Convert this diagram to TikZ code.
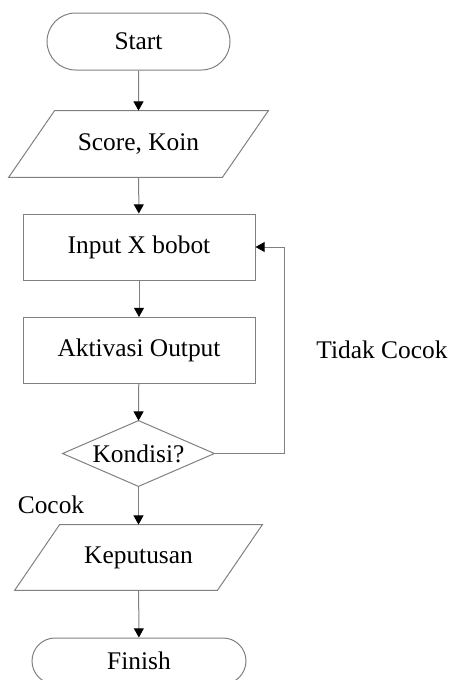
\documentclass[tikz,border=0pt]{standalone}
\usepackage{fontspec}
\setmainfont{Liberation Serif}
\usetikzlibrary{arrows.meta,shapes.misc,calc}
\begin{document}
\begin{tikzpicture}[x=0.5pt,y=-0.5pt,
  font=\fontsize{12.7pt}{15pt}\selectfont,
  line/.style={draw=black!50, line width=0.5pt},
  arr/.style={line, -{Triangle[width=5pt,length=4.6pt,color=black]}},
  term/.style={line, rounded rectangle, minimum width=#1, inner sep=0pt},
  procbox/.style={line, rectangle, minimum width=116pt, minimum height=33pt, inner sep=0pt},
  plain/.style={draw=none, inner sep=0pt}
]
\useasboundingbox (0,0) rectangle (451,680);

\node[term=91.5pt, minimum height=28.5pt] (start) at (138.5,41.5) {Start};
\node[plain, minimum width=129.5pt, minimum height=33pt] (score) at (138.5,144) {Score, Koin};
\node[procbox] (input) at (139,247) {Input X bobot};
\node[procbox] (aktiv) at (139,350.5) {Aktivasi Output};
\node[plain, minimum width=75.5pt, minimum height=32.5pt] (kond) at (138.5,453.5) {Kondisi?};
\node[plain, minimum width=123.5pt, minimum height=32.5pt] (kep) at (138.5,557.5) {Keputusan};
\node[term=107pt, minimum height=23pt] (finish) at (139,661) {Finish};

\node[plain] (tidak) at (382,350) {Tidak Cocok};
\node[plain] (cocok) at (51,505) {Cocok};
\coordinate (loop) at (284,454);

% parallelograms and diamond
\draw[line] ([xshift=23pt]score.north west) -- (score.north east)
  -- ([xshift=-23pt]score.south east) -- (score.south west) -- cycle;
\draw[line] ([xshift=22.5pt]kep.north west) -- (kep.north east)
  -- ([xshift=-22.5pt]kep.south east) -- (kep.south west) -- cycle;
\draw[line] (kond.north) -- (kond.east) -- (kond.south) -- (kond.west) -- cycle;

% connectors
\draw[arr] (start) -- (score);
\draw[arr] (score) -- (input);
\draw[arr] (input) -- (aktiv);
\draw[arr] (aktiv) -- (kond.north);
\draw[arr] (kond.south) -- (kep);
\draw[arr] (kep) -- (finish);
\draw[arr] (kond.east) -- (kond.east -| loop) |- (input.east);
\end{tikzpicture}
\end{document}
